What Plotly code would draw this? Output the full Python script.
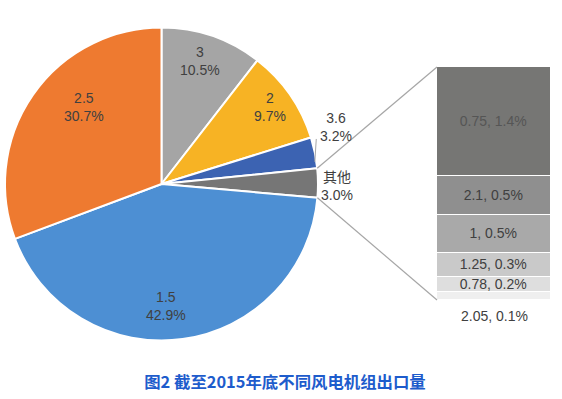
import math
import plotly.graph_objects as go

# ---- data ----
pie_labels = ["3", "2", "3.6", "其他", "1.5", "2.5"]
pie_values = [10.5, 9.7, 3.2, 3.0, 42.9, 30.7]
pie_colors = ["#a5a5a5", "#f7b324", "#3c63b2", "#767676", "#4d8fd3", "#ee7a30"]

# breakdown of "其他" (bottom -> top in the stack)
bar_names = ["2.05", "0.78", "1.25", "1", "2.1", "0.75"]
bar_values = [0.1, 0.2, 0.3, 0.5, 0.5, 1.4]
bar_colors = ["#efefef", "#dedede", "#c9c9c9", "#a9a9a9", "#8f8f8f", "#767674"]

title_text = "图2 截至2015年底不同风电机组出口量"

# ---- style / layout constants ----
W, H = 562, 399
pie_dom_x = [5 / W, 318 / W]
pie_dom_y = [1 - 341 / H, 1 - 27 / H]
bar_dom_x = [437 / W, 551 / W]
bar_dom_y = [1 - 300 / H, 1 - 67 / H]
# label placement per slice: (radius fraction, angle shift in degrees)
label_r = [0.82, 0.85, 1.17, 1.12, 0.78, 0.70]
label_da = [-1.6, -0.8, -6.6, 1.1, 5.7, 9.9]

font_fam = "Liberation Sans, Noto Sans CJK SC, sans-serif"
txt_color = "#404040"

fig = go.Figure()

fig.add_trace(go.Pie(
    labels=pie_labels, values=pie_values, sort=False, direction="clockwise",
    rotation=0, marker=dict(colors=pie_colors, line=dict(color="white", width=2)),
    textinfo="none",
    domain=dict(x=pie_dom_x, y=pie_dom_y), showlegend=False, hoverinfo="label+percent",
))

for i, (n, v, c) in enumerate(zip(bar_names, bar_values, bar_colors)):
    show_text = i > 0
    fig.add_trace(go.Bar(
        x=["其他"], y=[v], marker=dict(color=c, line=dict(color="white", width=1.5)),
        text=[f"{n}, {v}%"] if show_text else None,
        textposition="inside" if show_text else "none",
        insidetextanchor="middle",
        textfont=dict(size=14, color=txt_color if i < 5 else "#555555", family=font_fam),
        showlegend=False, xaxis="x", yaxis="y",
    ))

total_other = sum(bar_values)

# label of the smallest segment, below the bar
fig.add_annotation(
    x="其他", y=0, xref="x", yref="y", yanchor="top", yshift=-6,
    text=f"{bar_names[0]}, {bar_values[0]}%", showarrow=False,
    font=dict(size=14, color=txt_color, family=font_fam),
)

# pie geometry in pixels
cx_px = (pie_dom_x[0] + pie_dom_x[1]) / 2 * W
cy_px = (1 - (pie_dom_y[0] + pie_dom_y[1]) / 2) * H
r_px = min((pie_dom_x[1] - pie_dom_x[0]) * W, (pie_dom_y[1] - pie_dom_y[0]) * H) / 2
tot = sum(pie_values)


def polar(frac, rr):
    a = 2 * math.pi * frac
    px = cx_px + rr * math.sin(a)
    py = cy_px - rr * math.cos(a)
    return px / W, 1 - py / H


# slice labels
cum = 0.0
for i, (lab, v) in enumerate(zip(pie_labels, pie_values)):
    mid_base = (cum + v / 2) / tot
    mid = mid_base + label_da[i] / 360
    lx, ly = polar(mid, label_r[i] * r_px)
    fig.add_annotation(x=lx, y=ly, xref="paper", yref="paper", xanchor="center",
                       yanchor="middle", text=f"{lab}<br>{v / tot * 100:.1f}%",
                       showarrow=False, align="center",
                       font=dict(size=14, color=txt_color, family=font_fam))
    if lab == "3.6":
        # short leader line from the slice to its outside label
        a0 = polar(mid_base + 3.3 / 360, r_px * 0.99)
        a1 = polar(mid_base - 4.7 / 360, r_px * 1.03)
        fig.add_shape(type="line", xref="paper", yref="paper", x0=a0[0], y0=a0[1],
                      x1=a1[0], y1=a1[1], line=dict(color="#a6a6a6", width=1))
    cum += v

# connector lines from the "其他" slice edges to the bar corners
idx = pie_labels.index("其他")
start_frac = sum(pie_values[:idx]) / tot
end_frac = (sum(pie_values[:idx]) + pie_values[idx]) / tot
p0 = polar(start_frac, r_px)
p1 = polar(end_frac, r_px)
fig.add_shape(type="line", xref="paper", yref="paper", x0=p0[0], y0=p0[1],
              x1=bar_dom_x[0], y1=bar_dom_y[1], line=dict(color="#a6a6a6", width=1.2))
fig.add_shape(type="line", xref="paper", yref="paper", x0=p1[0], y0=p1[1],
              x1=bar_dom_x[0], y1=bar_dom_y[0], line=dict(color="#a6a6a6", width=1.2))

fig.update_layout(
    width=W, height=H, margin=dict(l=0, r=0, t=0, b=0),
    paper_bgcolor="white", plot_bgcolor="white",
    barmode="stack", bargap=0,
    uniformtext=dict(minsize=14, mode="show"),
    xaxis=dict(domain=bar_dom_x, visible=False, fixedrange=True),
    yaxis=dict(domain=bar_dom_y, range=[0, total_other], visible=False, fixedrange=True),
    title=dict(text=f"<b>{title_text}</b>", x=285 / W, xanchor="center", xref="paper",
               y=1 - 382 / H, yanchor="middle", yref="paper",
               font=dict(size=16.4, color="#1e5ccc", family="Noto Sans CJK SC, sans-serif")),
)

fig.write_html("out.html", config={"displayModeBar": False},
               post_script="document.body.style.margin='0';")
